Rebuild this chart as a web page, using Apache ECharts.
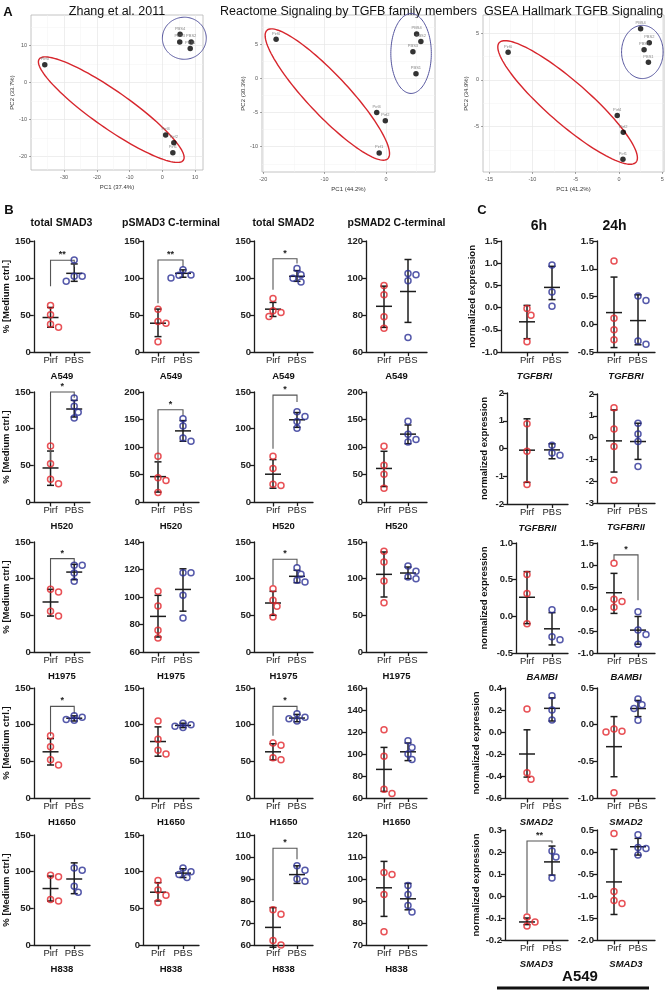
<!DOCTYPE html>
<html><head><meta charset="utf-8">
<script src="https://cdn.jsdelivr.net/npm/echarts@6.0.0/dist/echarts.min.js"></script>
<style>html,body{margin:0;padding:0;background:#fff}#c{width:669px;height:991px}</style>
</head><body><div id="c"></div>
<script>
// ---------------- Panel A data (PCA) ----------------
const pcaTitles = ['Zhang et al. 2011', 'Reactome Signaling by TGFB family members', 'GSEA Hallmark TGFB Signaling'];
const pcaXNames = ['PC1 (37.4%)', 'PC1 (44.2%)', 'PC1 (41.2%)'];
const pcaYNames = ['PC2 (33.7%)', 'PC2 (30.3%)', 'PC2 (34.9%)'];
const sampleNames = ['Pirf0', 'Pirf4', 'Pirf2', 'Pirf1', 'PBS4', 'PBS3', 'PBS2', 'PBS1'];
const zhangPC1 = [-35.9, 1.0, 3.5, 3.2, 5.4, 5.3, 8.8, 8.5];
const zhangPC2 = [4.8, -14.2, -16.3, -19.0, 13.1, 11.0, 11.0, 9.2];
const reactomePC1 = [-17.9, -1.5, -0.1, -1.1, 5.0, 4.4, 5.7, 4.9];
const reactomePC2 = [5.76, -5.0, -6.2, -10.9, 6.5, 3.9, 5.4, 0.7];
const gseaPC1 = [-12.8, -0.2, 0.5, 0.46, 2.5, 2.9, 3.5, 3.4];
const gseaPC2 = [2.96, -3.8, -5.6, -8.5, 5.5, 3.25, 4.0, 1.9];
const pcaXLim = [[-40.1, 12.4], [-20.2, 8.0], [-15.7, 5.2]];
const pcaYLim = [[-23.7, 18.3], [-13.7, 9.3], [-9.86, 6.96]];
const pcaXTicks = [[-30, -20, -10, 0, 10], [-20, -10, 0], [-15, -10, -5, 0, 5]];
const pcaYTicks = [[-20, -10, 0, 10], [-10, -5, 0, 5], [-5, 0, 5]];
// group ellipses: centre, two conjugate semi-axes (data units)
const pirfEllipses = [[-15.6, -7.35, -22.0, 13.7, 3.25, 4.1], [-9.55, -2.35, -9.85, 9.4, 2.4, 2.05], [-5.93, -2.41, -7.9, 6.4, 1.6, 1.7]];
const pbsEllipses = [[6.7, 12.0, 6.7, 0, 0, 5.7], [4.1, 3.66, 3.3, 0, 0, 5.85], [2.7, 3.0, 2.4, 0, 0, 2.85]];

// ---------------- Panel B data ----------------
const groups = ['Pirf', 'PBS'];
const cellLines = ['A549', 'H520', 'H1975', 'H1650', 'H838'];
const proteinsB = ['total SMAD3', 'pSMAD3 C-terminal', 'total SMAD2', 'pSMAD2 C-terminal'];

const tSMAD3_pirf = [[62.9, 50.2, 37.6, 33.5], [76.4, 52.3, 30.9, 25], [85.5, 81.8, 55.5, 49], [85, 70, 52, 45], [95, 93, 62, 60]];
const tSMAD3_pbs = [[124.4, 102.3, 102.3, 95.5], [141.8, 130.5, 122.3, 114.5], [118.2, 118.2, 107.7, 96.4], [112, 110, 107, 106], [105, 102, 80, 72]];
const tSMAD3_pirfMean = [46.6, 46.4, 68.2, 63, 77];
const tSMAD3_pirfBar = [[33.5, 60.2], [22.7, 69.5], [49, 85.5], [45, 81], [60, 94]];
const tSMAD3_pbsMean = [106.3, 126.8, 109, 108.8, 90];
const tSMAD3_pbsBar = [[95.5, 119], [115.9, 138.6], [98.6, 119.5], [105, 112], [70, 112]];
const tSMAD3_axis = [[0, 150, 50], [0, 150, 50], [0, 150, 50], [0, 150, 50], [0, 150, 50]];
const tSMAD3_sig = [['**', 89, 124, 115], ['*', 53, 150, 142], ['*', 86.4, 127.3, 120.5], ['*', 85, 125, 115], null];

const pSMAD3_pirf = [[57.9, 41.2, 38.9, 14.0], [83.2, 44.3, 38.9, 17.4], [104.1, 93.5, 75.8, 70.2], [105, 80, 65, 60], [88, 75, 68, 58]];
const pSMAD3_pbs = [[111.3, 103.6, 104, 100], [151.2, 138, 116.5, 110.5], [117.6, 117.6, 101.2, 84.8], [102, 100, 98, 96], [105, 100, 96, 92]];
const pSMAD3_pirfMean = [38.9, 46.1, 85.9, 77, 72];
const pSMAD3_pirfBar = [[20.8, 58], [18, 73], [70.9, 101.2], [57, 97], [60, 85]];
const pSMAD3_pbsMean = [106.3, 129.3, 105.5, 99, 98];
const pSMAD3_pbsBar = [[101, 111], [110.5, 148], [89.7, 120.5], [96, 102], [92, 104]];
const pSMAD3_axis = [[0, 150, 50], [0, 200, 50], [60, 140, 20], [0, 150, 50], [0, 150, 50]];
const pSMAD3_sig = [['**', 66, 124.4, 115], ['*', 49, 167.7, 156.9], null, null, null];

const tSMAD2_pirf = [[72.4, 55.7, 53.4, 48], [62.3, 45.7, 24.2, 22.4], [86.4, 70.5, 62.3, 47.7], [75, 72, 55, 52], [76, 74, 62, 60]];
const tSMAD2_pbs = [[112.7, 104.5, 99.5, 94.6], [122.9, 116.6, 109.9, 100.4], [115, 105.9, 97.7, 95.5], [115, 110, 108, 105], [96, 94, 90, 89]];
const tSMAD2_pirfMean = [57.9, 37.9, 66.8, 63, 68];
const tSMAD2_pirfBar = [[48, 67], [18.8, 57.8], [50, 82.7], [52, 74], [59, 77]];
const tSMAD2_pbsMean = [102.3, 112.1, 103.2, 109, 92];
const tSMAD2_pbsBar = [[95.5, 110], [101.8, 122], [94.5, 111.4], [104, 114], [88, 96]];
const tSMAD2_axis = [[0, 150, 50], [0, 150, 50], [0, 150, 50], [0, 150, 50], [60, 110, 10]];
const tSMAD2_sig = [['*', 84, 126, 119.5], ['*', 72.6, 145.7, 136.3], ['*', 90.9, 126.4, 118.2], ['*', 85, 125, 118], ['*', 80, 104, 99]];

const pSMAD2_pirf = [[96, 91, 79.1, 72.9], [101.2, 67, 50.3, 25.1], [137.3, 122.7, 96.8, 67.3], [122, 98, 68, 64], [103, 102, 93, 76]];
const pSMAD2_pbs = [[101.8, 102.4, 98.5, 67.8], [146.7, 123.4, 113.8, 109], [117.3, 110, 102.3, 100], [112, 106, 100, 95], [97, 93, 88, 85]];
const pSMAD2_pirfMean = [84.7, 61, 105.9, 86, 96];
const pSMAD2_pirfBar = [[73.3, 95.6], [28.1, 92.2], [75, 136.4], [66, 106], [83, 108]];
const pSMAD2_pbsMean = [92.7, 123.4, 107.7, 102, 91];
const pSMAD2_pbsBar = [[76, 110], [106, 140], [100, 115.9], [94, 110], [86, 98]];
const pSMAD2_axis = [[60, 120, 20], [0, 200, 50], [0, 150, 50], [60, 160, 20], [70, 120, 10]];
const pSMAD2_sig = [null, null, null, null, null];

// ---------------- Panel C data ----------------
const genesC = ['TGFBRI', 'TGFBRII', 'BAMBI', 'SMAD2', 'SMAD3'];
const timesC = ['6h', '24h'];
const c6_pirf = [[-0.02, -0.17, -0.77], [0.89, -0.10, -1.30], [0.57, 0.31, -0.10], [0.21, -0.37, -0.43], [-0.095, -0.118, -0.136]];
const c6_pbs = [[0.96, 0.35, 0.03], [0.12, -0.24, -0.16], [0.09, -0.28, -0.32], [0.33, 0.2, 0.11], [0.205, 0.177, 0.082]];
const c6_pirfMean = [-0.32, -0.06, 0.26, -0.2, -0.118];
const c6_pirfBar = [[-0.70, 0.05], [-1.22, 1.07], [-0.10, 0.61], [-0.41, 0.02], [-0.13, -0.10]];
const c6_pbsMean = [0.455, -0.05, -0.17, 0.215, 0.155];
const c6_pbsBar = [[0.18, 0.93], [-0.37, 0.17], [-0.39, 0.05], [0.10, 0.31], [0.095, 0.227]];
const c6_axis = [[-1, 1.5, 0.5], [-2, 2, 1], [-0.5, 1, 0.5], [-0.6, 0.4, 0.2], [-0.2, 0.3, 0.1]];
const c6_sig = [null, null, null, null, ['**', -0.08, 0.25, 0.24]];

const c24_pirf = [[1.14, 0.11, -0.10, -0.28], [1.37, 0.40, -0.41, -1.96], [1.04, 0.22, 0.17, 0.04], [-0.10, -0.09, -0.06, -0.93], [0.42, -0.90, -1.10, -1.17]];
const c24_pbs = [[0.51, 0.43, -0.36, -0.30], [0.66, 0.17, -0.18, -1.33], [-0.06, -0.48, -0.58, -0.80], [0.35, 0.27, 0.22, 0.06], [0.39, 0.10, 0.08, -0.07]];
const c24_pirfMean = [0.21, -0.15, 0.37, -0.30, -0.68];
const c24_pirfBar = [[-0.42, 0.85], [-1.58, 1.27], [-0.10, 0.81], [-0.71, 0.11], [-1.42, 0.06]];
const c24_pbsMean = [0.066, -0.18, -0.48, 0.22, 0.12];
const c24_pbsBar = [[-0.37, 0.53], [-1.0, 0.66], [-0.8, -0.17], [0.11, 0.33], [-0.07, 0.31]];
const c24_axis = [[-0.5, 1.5, 0.5], [-3, 2, 1], [-1, 1.5, 0.5], [-1, 0.5, 0.5], [-2, 0.5, 0.5]];
const c24_sig = [null, null, ['*', 1.1, 1.23, 0.2], null, null];

// ---------------- rendering ----------------
const FONT = '"Liberation Sans", Arial, Helvetica, sans-serif';
const RED = '#e2262c', BLUE = '#2b2f95', INK = '#1c1c1c';
const option = { animation: false, backgroundColor: '#fff', grid: [], xAxis: [], yAxis: [], series: [], graphic: [] };

function addGrid(left, top, width, height, extra) {
  option.grid.push(Object.assign({ left, top, width, height, containLabel: false }, extra || {}));
  return option.grid.length - 1;
}
function txt(text, x, y, size, weight, extra) {
  option.graphic.push({ type: 'text', x, y, silent: true, style: Object.assign({
    text, fontFamily: FONT, fontSize: size, fontWeight: weight || 'normal', fill: '#111',
    textAlign: 'center', textVerticalAlign: 'middle', align: 'center', verticalAlign: 'middle' }, extra || {}) });
}

function ellipseSeries(g, params, color, width) {
  return {
    type: 'custom', coordinateSystem: 'cartesian2d', xAxisIndex: g, yAxisIndex: g, silent: true, clip: false, z: 3,
    data: [params],
    renderItem: function (p, api) {
      const c = [api.value(0), api.value(1)], u = [api.value(2), api.value(3)], v = [api.value(4), api.value(5)];
      const pts = [];
      for (let i = 0; i <= 120; i++) {
        const t = i / 120 * Math.PI * 2;
        pts.push(api.coord([c[0] + u[0] * Math.cos(t) + v[0] * Math.sin(t), c[1] + u[1] * Math.cos(t) + v[1] * Math.sin(t)]));
      }
      return { type: 'polyline', shape: { points: pts }, style: { stroke: color, lineWidth: width, fill: null } };
    }
  };
}

function addPCA(k, box, pc1, pc2) {
  const g = addGrid(box[0], box[2], box[1] - box[0], box[3] - box[2], { show: true, borderColor: '#b5b5b5', borderWidth: 0.8, backgroundColor: '#fff' });
  const axisCommon = { type: 'value', gridIndex: g, axisLine: { show: false, onZero: false },
    axisTick: { show: true, length: 2, lineStyle: { color: '#666', width: 0.6 } },
    splitLine: { show: true, lineStyle: { color: '#e6e6e6', width: 0.7 } },
    minorTick: { show: false, splitNumber: 2 }, minorSplitLine: { show: true, lineStyle: { color: '#f3f3f3', width: 0.5 } },
    nameLocation: 'middle', nameTextStyle: { fontSize: 6, color: '#333', fontFamily: FONT } };
  option.xAxis.push(Object.assign({}, axisCommon, {
    min: pcaXLim[k][0], max: pcaXLim[k][1], splitNumber: [5, 3, 4][k],
    axisTick: Object.assign({ customValues: pcaXTicks[k] }, axisCommon.axisTick),
    axisLabel: { customValues: pcaXTicks[k], fontSize: 5.5, color: '#555', margin: 4, fontFamily: FONT },
    name: pcaXNames[k], nameGap: 14 }));
  option.yAxis.push(Object.assign({}, axisCommon, {
    min: pcaYLim[k][0], max: pcaYLim[k][1], splitNumber: [4, 5, 3][k],
    axisTick: Object.assign({ customValues: pcaYTicks[k] }, axisCommon.axisTick),
    axisLabel: { customValues: pcaYTicks[k], fontSize: 5.5, color: '#555', margin: 4, fontFamily: FONT },
    name: pcaYNames[k], nameGap: 14 }));
  option.series.push(ellipseSeries(g, pirfEllipses[k], '#d7262d', 1.4));
  option.series.push(ellipseSeries(g, pbsEllipses[k], '#55559e', 1.0));
  option.series.push({
    type: 'scatter', xAxisIndex: g, yAxisIndex: g, symbolSize: 5.5, z: 4,
    itemStyle: { color: '#000' },
    label: { show: true, position: 'top', distance: 1, formatter: '{b}', fontSize: 4, color: '#666', fontFamily: FONT },
    data: sampleNames.map((n, i) => ({ name: n, value: [pc1[i], pc2[i]] }))
  });
  txt(pcaTitles[k], (box[0] + box[1]) / 2, 12, 12.5, 'normal', { fill: '#111' });
}

function dodge(vals, pxPerUnit) {
  const idx = vals.map((v, i) => i).sort((a, b) => vals[b] - vals[a]);
  const placed = [], off = vals.map(() => 0);
  const D = 6.8, steps = [0, 4, -4, 8, -8, 12, -12];
  idx.forEach(i => {
    const y = -vals[i] * pxPerUnit;
    let chosen = 0;
    for (const s of steps) {
      if (placed.every(p => Math.hypot(p[0] - s, p[1] - y) >= D)) { chosen = s; break; }
    }
    off[i] = chosen; placed.push([chosen, y]);
  });
  return off;
}

function errSeries(g, gx, mean, bar, mw) {
  return {
    type: 'custom', coordinateSystem: 'cartesian2d', xAxisIndex: g, yAxisIndex: g, silent: true, clip: false, z: 2,
    data: [[gx, mean, bar[0], bar[1]]],
    renderItem: function (p, api) {
      const pm = api.coord([api.value(0), api.value(1)]);
      const pl = api.coord([api.value(0), api.value(2)]);
      const ph = api.coord([api.value(0), api.value(3)]);
      const st = { stroke: INK, lineWidth: 1.5 };
      const cw = 3.5;
      return { type: 'group', children: [
        { type: 'line', shape: { x1: pm[0] - mw, y1: pm[1], x2: pm[0] + mw, y2: pm[1] }, style: st },
        { type: 'line', shape: { x1: pl[0], y1: pl[1], x2: ph[0], y2: ph[1] }, style: st },
        { type: 'line', shape: { x1: pl[0] - cw, y1: pl[1], x2: pl[0] + cw, y2: pl[1] }, style: st },
        { type: 'line', shape: { x1: ph[0] - cw, y1: ph[1], x2: ph[0] + cw, y2: ph[1] }, style: st }
      ] };
    }
  };
}

function sigSeries(g, sig) {
  return {
    type: 'custom', coordinateSystem: 'cartesian2d', xAxisIndex: g, yAxisIndex: g, silent: true, clip: false, z: 2,
    data: [[sig[1], sig[2], sig[3]]],
    renderItem: function (p, api) {
      const a = api.coord([0, api.value(0)]), b = api.coord([0, api.value(1)]);
      const c = api.coord([1, api.value(1)]), d = api.coord([1, api.value(2)]);
      return { type: 'group', children: [
        { type: 'polyline', shape: { points: [a, b, c, d] }, style: { stroke: '#555', lineWidth: 1.1, fill: null } },
        { type: 'text', x: (b[0] + c[0]) / 2, y: b[1] - 1, style: { text: sig[0], fontFamily: FONT, fontSize: 9, fontWeight: 'bold', fill: '#222', align: 'center', verticalAlign: 'bottom', textAlign: 'center', textVerticalAlign: 'bottom' } }
      ] };
    }
  };
}

function addDot(geo, d) {
  const span = geo.pbs - geo.pirf;
  const xmin = -(geo.pirf - geo.ax) / span, xmax = 1 + (geo.end - geo.pbs) / span;
  const h = geo.bottom - geo.top;
  const g = addGrid(geo.ax, geo.top, geo.end - geo.ax, h);
  const ymin = d.axis[0], ymax = d.axis[1], step = d.axis[2];
  const dec = step < 1 ? 1 : 0;
  const lineSt = { color: INK, width: 1.3 };
  option.xAxis.push({
    gridIndex: g, type: 'value', min: xmin, max: xmax,
    axisLine: { show: true, onZero: false, lineStyle: lineSt },
    axisTick: { show: true, customValues: [0, 1], length: 4, lineStyle: lineSt },
    axisLabel: { customValues: [0, 1], formatter: v => groups[Math.round(v)], fontSize: 9.5, color: '#222', margin: 3, fontFamily: FONT },
    splitLine: { show: false },
    name: d.xName, nameLocation: 'middle', nameGap: 19,
    nameTextStyle: Object.assign({ fontSize: 9.5, fontWeight: 'bold', color: '#111', fontFamily: FONT }, d.xNameStyle || {})
  });
  option.yAxis.push({
    gridIndex: g, type: 'value', min: ymin, max: ymax, interval: step,
    axisLine: { show: true, onZero: false, lineStyle: lineSt },
    axisTick: { show: true, length: 4, lineStyle: lineSt },
    axisLabel: { fontSize: 9.5, fontWeight: 'bold', color: '#222', margin: 3, fontFamily: FONT,
      formatter: v => (Math.abs(v) < 1e-9 ? 0 : v).toFixed(dec) },
    splitLine: { show: false },
    name: d.yName || '', nameLocation: 'middle', nameGap: d.yNameGap || 20,
    nameTextStyle: { fontSize: 9.5, fontWeight: 'bold', color: '#111', fontFamily: FONT }
  });
  const ppu = h / (ymax - ymin);
  option.series.push(errSeries(g, 0, d.pirfMean, d.pirfBar, 8));
  option.series.push(errSeries(g, 1, d.pbsMean, d.pbsBar, 8));
  if (d.sig) option.series.push(sigSeries(g, d.sig));
  [[d.pirf, RED, 0], [d.pbs, BLUE, 1]].forEach(([vals, col, gx]) => {
    const off = dodge(vals, ppu);
    option.series.push({
      type: 'scatter', xAxisIndex: g, yAxisIndex: g, symbol: 'circle', symbolSize: 6, z: 4, silent: true,
      itemStyle: { color: 'rgba(255,255,255,0)', borderColor: col, borderWidth: 1.5 },
      data: vals.map((v, i) => ({ value: [gx, v], symbolOffset: [off[i], 0] }))
    });
  });
}

// ---- Panel A layout ----
const pcaBoxes = [[31, 203, 15, 170], [262, 435, 15, 172], [483, 664, 15, 172]];
addPCA(0, pcaBoxes[0], zhangPC1, zhangPC2);
addPCA(1, pcaBoxes[1], reactomePC1, reactomePC2);
addPCA(2, pcaBoxes[2], gseaPC1, gseaPC2);

// ---- Panel B layout ----
const colsB = [{ ax: 33, pirf: 50, pbs: 74, end: 90 }, { ax: 143, pirf: 158, pbs: 183, end: 199 }, { ax: 254, pirf: 273, pbs: 297, end: 313 }, { ax: 366, pirf: 384, pbs: 408, end: 427 }];
const rowsB = [[241, 352], [392, 502], [542, 652], [688, 798], [835, 945]];
const dataB = [
  [tSMAD3_pirf, tSMAD3_pbs, tSMAD3_pirfMean, tSMAD3_pirfBar, tSMAD3_pbsMean, tSMAD3_pbsBar, tSMAD3_axis, tSMAD3_sig],
  [pSMAD3_pirf, pSMAD3_pbs, pSMAD3_pirfMean, pSMAD3_pirfBar, pSMAD3_pbsMean, pSMAD3_pbsBar, pSMAD3_axis, pSMAD3_sig],
  [tSMAD2_pirf, tSMAD2_pbs, tSMAD2_pirfMean, tSMAD2_pirfBar, tSMAD2_pbsMean, tSMAD2_pbsBar, tSMAD2_axis, tSMAD2_sig],
  [pSMAD2_pirf, pSMAD2_pbs, pSMAD2_pirfMean, pSMAD2_pirfBar, pSMAD2_pbsMean, pSMAD2_pbsBar, pSMAD2_axis, pSMAD2_sig]
];
dataB.forEach((P, c) => {
  const col = colsB[c];
  txt(proteinsB[c], (col.ax + col.end) / 2, 223, 10.5, 'bold');
  cellLines.forEach((cl, r) => {
    addDot({ ax: col.ax, pirf: col.pirf, pbs: col.pbs, end: col.end, top: rowsB[r][0], bottom: rowsB[r][1] }, {
      pirf: P[0][r], pbs: P[1][r], pirfMean: P[2][r], pirfBar: P[3][r], pbsMean: P[4][r], pbsBar: P[5][r],
      axis: P[6][r], sig: P[7][r], xName: cl,
      yName: c === 0 ? '% [Medium ctrl.]' : '', yNameGap: 22
    });
  });
});

// ---- Panel C layout ----
const rowsC6 = [[241, 352], [393, 504], [543, 653], [688, 798], [830, 940]];
const rowsC24 = [[241, 352], [394, 503], [543, 653], [688, 798], [830, 940]];
const axC6 = [501, 507, 516, 505, 505];
const dataC = [
  [c6_pirf, c6_pbs, c6_pirfMean, c6_pirfBar, c6_pbsMean, c6_pbsBar, c6_axis, c6_sig],
  [c24_pirf, c24_pbs, c24_pirfMean, c24_pirfBar, c24_pbsMean, c24_pbsBar, c24_axis, c24_sig]
];
dataC.forEach((P, t) => {
  genesC.forEach((gn, r) => {
    const geo = t === 0
      ? { ax: axC6[r], pirf: 527, pbs: 552, end: 568, top: rowsC6[r][0], bottom: rowsC6[r][1] }
      : { ax: 597, pirf: 614, pbs: 638, end: 655, top: rowsC24[r][0], bottom: rowsC24[r][1] };
    addDot(geo, {
      pirf: P[0][r], pbs: P[1][r], pirfMean: P[2][r], pirfBar: P[3][r], pbsMean: P[4][r], pbsBar: P[5][r],
      axis: P[6][r], sig: P[7][r], xName: gn, xNameStyle: { fontStyle: 'italic' },
      yName: t === 0 ? 'normalized expression' : '', yNameGap: axC6[r] - 489
    });
  });
});
txt(timesC[0], 539, 226, 14, 'bold');
txt(timesC[1], 614.5, 226, 14, 'bold');

// panel letters and footer
txt('A', 8, 12, 13, 'bold');
txt('B', 9, 210, 13, 'bold');
txt('C', 482, 210, 13, 'bold');
txt('A549', 580, 977, 15, 'bold');
option.graphic.push({ type: 'line', silent: true, shape: { x1: 497, y1: 988, x2: 649, y2: 988 }, style: { stroke: '#111', lineWidth: 3 } });

const chart = echarts.init(document.getElementById('c'), null, { renderer: 'canvas' });
chart.setOption(option);
</script></body></html>
